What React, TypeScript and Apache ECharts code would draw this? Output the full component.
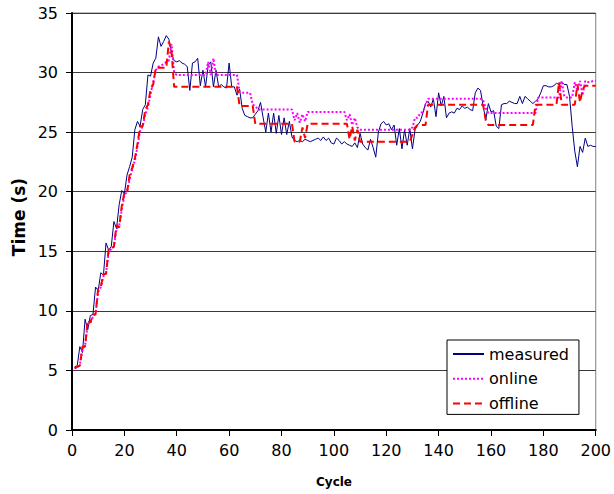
import React, { useEffect, useRef } from "react";
import * as echarts from "echarts";

// Cycle numbers 1..200 on the x axis
const cycles: number[] = Array.from({ length: 200 }, (_, i) => i + 1);

// Measured cycle time (s)
const measured: number[] = [
  5.3, 5.4, 7.0, 6.5, 9.3, 8.4, 9.6, 9.7, 12.0, 11.7,
  13.2, 13.0, 15.7, 15.1, 15.4, 17.5, 16.9, 18.9, 20.1, 19.8,
  21.4, 22.1, 22.9, 25.2, 25.9, 25.5, 26.9, 27.3, 29.8, 29.7,
  30.8, 31.2, 33.0, 32.2, 32.6, 33.1, 32.8, 31.6, 31.0, 30.9,
  31.0, 30.8, 30.7, 30.5, 28.5, 30.8, 30.9, 31.2, 28.9, 30.2,
  28.8, 30.6, 30.9, 28.8, 30.2, 28.8, 29.0, 28.8, 28.7, 30.8,
  28.8, 28.8, 28.1, 28.6, 27.0, 26.4, 26.3, 26.2, 26.2, 26.5,
  26.8, 27.5, 26.2, 25.0, 26.6, 25.0, 26.6, 24.9, 26.4, 24.8,
  26.2, 24.8, 25.9, 24.6, 24.3, 24.2, 24.3, 24.2, 24.4, 24.3,
  24.2, 24.3, 24.4, 24.5, 24.3, 24.6, 24.3, 24.5, 24.1, 24.0,
  24.5, 24.3, 24.0, 24.2, 24.0, 23.9, 23.8, 24.1, 23.7, 24.9,
  24.0, 23.7, 23.5, 24.4, 23.7, 22.9, 25.0, 25.7, 25.9, 25.6,
  25.7, 25.2, 25.6, 23.9, 25.3, 23.6, 25.2, 23.9, 25.3, 23.6,
  25.2, 25.6, 25.9, 26.6, 27.4, 27.6, 27.1, 27.8, 26.3, 28.3,
  27.2, 28.0, 26.2, 26.6, 26.7, 26.6, 27.0, 26.9, 27.2, 27.0,
  27.1, 26.9, 26.8, 28.3, 28.7, 28.5, 27.2, 26.0, 27.4, 26.7,
  26.8, 25.5, 25.3, 27.3, 27.4, 27.4, 27.6, 27.5, 27.4, 27.4,
  28.0, 27.4, 28.0, 27.8, 27.6, 27.4, 27.6, 27.8, 28.3, 28.9,
  28.9, 28.8, 28.8, 28.9, 29.1, 29.0, 29.2, 29.0, 29.0, 28.0,
  25.5, 23.4, 22.1, 23.8, 23.3, 24.5, 23.8, 23.9, 23.8, 23.8,
];

// Online model prediction (s)
const online: number[] = [
  5.2, 5.2, 5.5, 6.8, 7.1, 8.9, 9.0, 9.5, 9.8, 11.6,
  12.0, 12.9, 13.2, 14.9, 15.2, 15.4, 16.9, 17.1, 18.5, 19.7,
  20.0, 21.0, 21.9, 22.6, 23.8, 25.1, 25.5, 26.5, 27.1, 28.2,
  29.2, 30.2, 30.5, 30.6, 30.7, 30.9, 31.0, 32.4, 30.0, 29.8,
  29.8, 29.8, 29.8, 29.8, 29.8, 29.8, 29.8, 29.8, 29.8, 29.8,
  29.8, 30.9, 29.8, 31.2, 29.8, 29.8, 29.8, 29.8, 29.8, 29.8,
  29.8, 29.8, 29.8, 28.4, 28.3, 28.3, 28.3, 28.3, 27.3, 27.2,
  26.9, 26.9, 26.9, 26.9, 26.9, 26.9, 26.9, 26.9, 26.9, 26.9,
  26.9, 26.9, 26.9, 26.9, 26.0, 26.6, 25.8, 26.5, 25.9, 26.7,
  26.7, 26.7, 26.7, 26.7, 26.7, 26.7, 26.7, 26.7, 26.7, 26.7,
  26.7, 26.7, 26.7, 26.7, 26.0, 26.5, 25.6, 26.2, 25.4, 25.2,
  25.2, 25.2, 25.2, 25.2, 25.2, 25.2, 25.2, 25.2, 25.2, 25.2,
  25.2, 25.2, 25.2, 25.2, 25.2, 25.2, 25.2, 25.2, 25.2, 25.4,
  26.2, 26.2, 26.6, 26.7, 27.3, 27.8, 27.8, 27.8, 27.8, 27.8,
  27.8, 27.8, 27.8, 27.8, 27.8, 27.8, 27.8, 27.8, 27.8, 27.8,
  27.8, 27.8, 27.8, 27.8, 27.8, 27.8, 27.7, 27.0, 26.6, 26.6,
  26.6, 26.6, 26.6, 26.6, 26.6, 26.6, 26.6, 26.6, 26.6, 26.6,
  26.6, 26.6, 26.6, 26.6, 26.6, 26.6, 26.6, 27.9, 27.9, 27.9,
  27.9, 27.9, 27.9, 27.9, 27.9, 27.9, 29.3, 28.0, 27.9, 27.9,
  27.9, 29.2, 28.5, 29.3, 28.1, 29.3, 29.2, 29.2, 29.3, 29.3,
];

// Offline model prediction (s)
const offline: number[] = [
  5.2, 5.3, 5.4, 7.0, 7.0, 9.2, 9.0, 9.7, 9.7, 11.9,
  12.0, 13.1, 13.1, 15.2, 15.2, 15.4, 17.2, 17.0, 18.8, 19.9,
  19.9, 21.4, 22.0, 22.8, 24.0, 25.5, 25.5, 26.9, 27.3, 28.6,
  29.0, 30.4, 30.4, 30.4, 30.4, 30.4, 32.6, 31.8, 28.8, 28.8,
  28.8, 28.8, 28.8, 28.8, 28.8, 28.8, 28.8, 28.8, 28.8, 28.8,
  28.8, 28.8, 28.8, 28.8, 28.8, 28.8, 28.8, 28.8, 28.8, 28.8,
  28.8, 28.8, 28.8, 27.2, 27.2, 27.2, 27.2, 27.2, 27.2, 25.7,
  25.7, 25.7, 25.7, 25.7, 25.7, 25.7, 25.7, 25.7, 25.7, 25.7,
  25.7, 25.7, 25.7, 25.7, 24.2, 24.2, 24.2, 25.4, 24.5, 25.7,
  25.7, 25.7, 25.7, 25.7, 25.7, 25.7, 25.7, 25.7, 25.7, 25.7,
  25.7, 25.7, 25.7, 25.7, 25.7, 24.4, 25.5, 24.3, 25.2, 24.2,
  24.2, 24.2, 24.2, 24.2, 24.2, 24.2, 24.2, 24.2, 24.2, 24.2,
  24.2, 24.2, 24.2, 24.2, 24.2, 24.2, 24.2, 24.2, 24.2, 24.8,
  25.4, 25.6, 25.6, 25.6, 25.6, 27.3, 27.3, 27.3, 27.3, 27.3,
  27.3, 27.3, 27.3, 27.3, 27.3, 27.3, 27.3, 27.3, 27.3, 27.3,
  27.3, 27.3, 27.3, 27.3, 27.3, 27.3, 27.3, 26.0, 25.6, 25.6,
  25.6, 25.6, 25.6, 25.6, 25.6, 25.6, 25.6, 25.6, 25.6, 25.6,
  25.6, 25.6, 25.6, 25.6, 25.6, 25.6, 27.3, 27.3, 27.3, 27.3,
  27.3, 27.3, 27.3, 27.3, 27.3, 29.2, 27.3, 27.3, 27.3, 27.3,
  27.3, 27.3, 29.0, 27.5, 28.6, 28.9, 28.9, 28.9, 28.9, 28.9,
];

const FONT = "DejaVu Sans, Verdana, sans-serif";

const pairs = (vals: number[]) => cycles.map((c, i) => [c, vals[i]]);

export default function App() {
  const ref = useRef<HTMLDivElement>(null);

  useEffect(() => {
    if (!ref.current) return;
    const chart = echarts.init(ref.current, undefined, { renderer: "svg" });
    chart.setOption({
      animation: false,
      backgroundColor: "#ffffff",
      grid: {
        left: 72,
        right: 18,
        top: 13,
        bottom: 64,
        show: true,
        borderColor: "#808080",
        borderWidth: 1,
      },
      xAxis: {
        type: "value",
        min: 0,
        max: 200,
        interval: 20,
        axisLine: { show: true, lineStyle: { color: "#000", width: 2 } },
        axisTick: { show: true, length: 6, lineStyle: { color: "#000", width: 1 } },
        axisLabel: { fontSize: 16, color: "#000", fontFamily: FONT, margin: 12 },
        splitLine: { show: false },
      },
      yAxis: {
        type: "value",
        min: 0,
        max: 35,
        interval: 5,
        axisLine: { show: true, lineStyle: { color: "#000", width: 2 } },
        axisTick: { show: true, length: 6, lineStyle: { color: "#000", width: 1 } },
        axisLabel: { fontSize: 16, color: "#000", fontFamily: FONT, margin: 14 },
        splitLine: { show: true, lineStyle: { color: "#3a3a3a", width: 1 } },
      },
      legend: {
        orient: "vertical",
        left: 447,
        top: 340,
        itemWidth: 31,
        itemHeight: 14,
        itemGap: 8.7,
        padding: [6, 10, 3, 5],
        backgroundColor: "#ffffff",
        borderColor: "#000",
        borderWidth: 1,
        borderRadius: 0,
        // line-only keys: hide the marker drawn in the middle of each key line
        itemStyle: { color: "transparent", borderColor: "transparent", borderWidth: 0, opacity: 0 },
        textStyle: { fontSize: 16, fontFamily: FONT, color: "#000", lineHeight: 16 },
        data: ["measured", "online", "offline"],
      },
      graphic: [
        {
          type: "text",
          x: 19,
          y: 217,
          rotation: Math.PI / 2,
          style: {
            text: "Time (s)",
            font: `bold 17px ${FONT}`,
            fill: "#000",
            textAlign: "center",
            textVerticalAlign: "middle",
          },
        },
        {
          type: "text",
          x: 334,
          y: 482,
          style: {
            text: "Cycle",
            font: `bold 12px ${FONT}`,
            fill: "#000",
            textAlign: "center",
            textVerticalAlign: "middle",
          },
        },
      ],
      series: [
        {
          name: "measured",
          type: "line",
          data: pairs(measured),
          symbol: "none",
          lineStyle: { color: "#000080", width: 1 },
          itemStyle: { color: "#000080" },
        },
        {
          name: "online",
          type: "line",
          data: pairs(online),
          symbol: "none",
          lineStyle: { color: "#ff00ff", width: 2, type: [2, 2] },
          itemStyle: { color: "#ff00ff" },
        },
        {
          name: "offline",
          type: "line",
          data: pairs(offline),
          symbol: "none",
          lineStyle: { color: "#ff0000", width: 2, type: [7, 4] },
          itemStyle: { color: "#ff0000" },
        },
      ],
    });
    return () => chart.dispose();
  }, []);

  return (
    <div
      ref={ref}
      style={{ position: "fixed", left: 0, top: 0, width: 614, height: 494, background: "#fff" }}
    />
  );
}
